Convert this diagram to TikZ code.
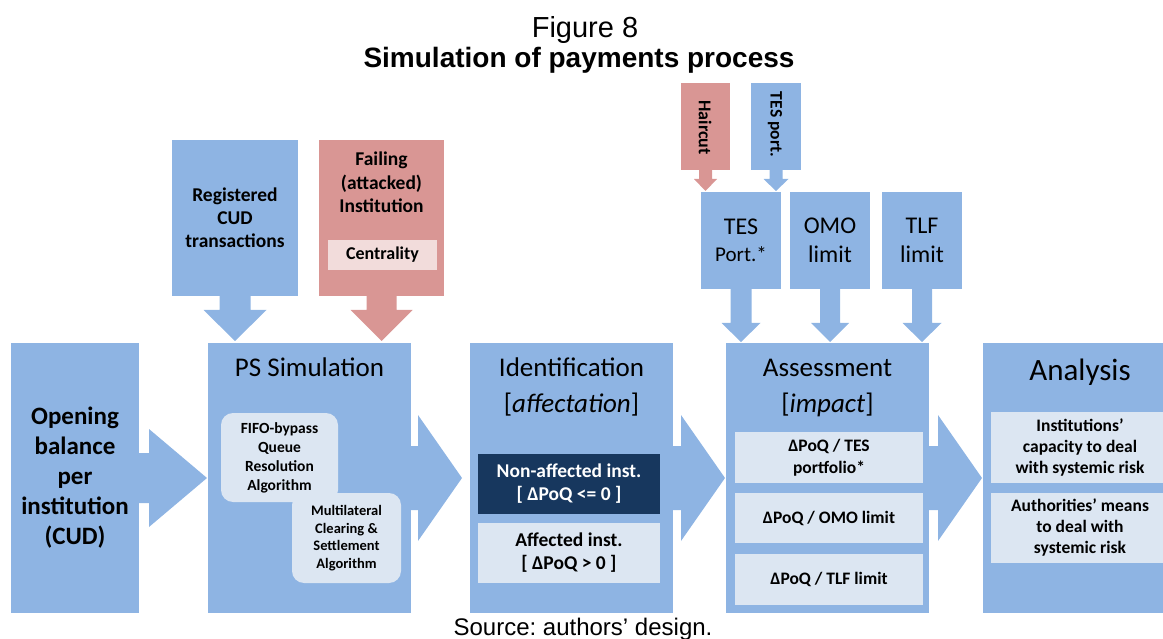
\documentclass[tikz,border=0pt]{standalone}
\usepackage{fontspec}
\setmainfont{Carlito}
\newfontfamily\arialfont{Liberation Sans}
\usetikzlibrary{calc}
\frenchspacing

\definecolor{blockblue}{HTML}{8EB4E3}
\definecolor{failred}{HTML}{D99694}
\definecolor{paleblue}{HTML}{DCE6F2}
\definecolor{palered}{HTML}{F2DCDB}
\definecolor{navy}{HTML}{17375E}

\newcommand\fs[2]{\fontsize{#1}{#2}\selectfont}

% horizontal block arrow: source, target, stem half height, head half height, stem length, gap to target
\newcommand\pushArrow[6]{%
  \fill[blockblue] let \p1=(#1.east), \p2=(#2.west) in
    (\x1,\y1+#3pt) -- (\x1+#5pt,\y1+#3pt) -- (\x1+#5pt,\y1+#4pt) -- (\x2-#6pt,\y1)
    -- (\x1+#5pt,\y1-#4pt) -- (\x1+#5pt,\y1-#3pt) -- (\x1,\y1-#3pt) -- cycle;}

% vertical block arrow: source, target, stem half width, head half width, head length, gap, colour
\newcommand\dropArrow[7]{%
  \fill[#7] let \p1=(#1.south), \p2=(#2.north) in
    (\x1-#3pt,\y1) -- (\x1+#3pt,\y1) -- (\x1+#3pt,\y2+#6pt+#5pt) -- (\x1+#4pt,\y2+#6pt+#5pt)
    -- (\x1,\y2+#6pt) -- (\x1-#4pt,\y2+#6pt+#5pt) -- (\x1-#3pt,\y2+#6pt+#5pt) -- (\x1-#3pt,\y1) -- cycle;}

\tikzset{
  flat/.style={rectangle, draw=none, inner sep=0pt, outer sep=0pt, align=center, text=black},
  bluebox/.style={flat, fill=blockblue},
  redbox/.style={flat, fill=failred},
  palebox/.style={flat, fill=paleblue},
  txt/.style={inner sep=0pt, outer sep=0pt, align=center, text=black},
}

\begin{document}
\begin{tikzpicture}[x=1pt,y=-1pt]
\useasboundingbox (0,0) rectangle (1163,639);

% headings
\node[txt, anchor=base, font=\arialfont\fs{29}{33}] (fig) at (585,38) {Figure 8};
\node[txt, anchor=base, font=\arialfont\bfseries\fs{28}{32}] (title) at (579,68) {Simulation of payments process};

% main stages
\node[bluebox, minimum width=128, minimum height=270, font=\bfseries\fs{25}{30}] (open) at (75,478)
  {Opening\\balance\\per\\institution\\(CUD)};
\node[bluebox, minimum width=203, minimum height=270] (ps) at (309.5,478) {};
\node[bluebox, minimum width=203, minimum height=270] (ident) at (571.5,478) {};
\node[bluebox, minimum width=203, minimum height=270] (assess) at (827.5,478) {};
\node[bluebox, minimum width=194, minimum height=270] (anal) at (1080,478) {};

% stage headings
\node[txt, anchor=base, font=\fs{27}{32}] (psT) at (309.5,377) {PS Simulation};
\node[txt, anchor=base, font=\fs{27}{32}] (identT) at (571.5,377) {Identification};
\node[txt, anchor=base, font=\fs{27}{32}] (identS) at (571.5,412) {[\textit{affectation}]};
\node[txt, anchor=base, font=\fs{27}{32}] (assessT) at (827.5,377) {Assessment};
\node[txt, anchor=base, font=\fs{27}{32}] (assessS) at (827.5,412) {[\textit{impact}]};
\node[txt, anchor=base, font=\fs{31}{36}] (analT) at (1080,380) {Analysis};

% PS simulation algorithms
\node[palebox, rounded corners=12pt, minimum width=117, minimum height=89, font=\bfseries\fs{15.5}{19}] (fifo) at (279.5,457.5)
  {FIFO-bypass\\Queue\\Resolution\\Algorithm};
\node[palebox, rounded corners=12pt, minimum width=109, minimum height=90, font=\bfseries\fs{14.5}{17.5}] (mlcs) at (346.5,538)
  {Multilateral\\Clearing \&\\Settlement\\Algorithm};

% identification outcomes
\node[flat, fill=navy, text=white, minimum width=182, minimum height=60, font=\bfseries\fs{19.5}{23}] (nonaff) at (569,484)
  {Non-affected inst.\\{[} ΔPoQ <= 0 ]};
\node[palebox, minimum width=182, minimum height=60, font=\bfseries\fs{19.5}{23}] (aff) at (569,553)
  {Affected inst.\\{[} ΔPoQ > 0 ]};

% assessment ratios
\node[palebox, minimum width=188, minimum height=51, font=\bfseries\fs{17.5}{22}] (r1) at (829,457.5) {ΔPoQ / TES\\portfolio*};
\node[palebox, minimum width=188, minimum height=50, font=\bfseries\fs{17.5}{22}] (r2) at (829,518) {ΔPoQ / OMO limit};
\node[palebox, minimum width=188, minimum height=51, font=\bfseries\fs{17.5}{22}] (r3) at (829,579.5) {ΔPoQ / TLF limit};

% analysis items
\node[palebox, minimum width=178, minimum height=71, font=\bfseries\fs{17.5}{21}] (a1) at (1080,447.5)
  {Institutions’\\capacity to deal\\with systemic risk};
\node[palebox, minimum width=178, minimum height=70, font=\bfseries\fs{17.5}{21}] (a2) at (1080,528)
  {Authorities’ means\\to deal with\\systemic risk};

% inputs to the simulation
\node[bluebox, minimum width=126, minimum height=156, font=\bfseries\fs{19.5}{23}] (reg) at (235,218)
  {Registered\\CUD\\transactions};
\node[redbox, minimum width=125, minimum height=156] (fail) at (381.5,218) {};
\node[txt, font=\bfseries\fs{19.5}{23.5}] (failT) at (381.5,182.5) {Failing\\(attacked)\\Institution};
\node[flat, fill=palered, minimum width=109, minimum height=30, font=\bfseries\fs{18}{22}] (cent) at (382.5,255) {Centrality};

% inputs to the assessment
\node[redbox, minimum width=49, minimum height=87] (hair) at (705.5,126.5) {};
\node[txt, rotate=-90, font=\bfseries\fs{18}{20}] (hairT) at (705,127.5) {Haircut};
\node[bluebox, minimum width=50, minimum height=87] (tesp) at (776,126.5) {};
\node[txt, rotate=-90, font=\bfseries\fs{17.5}{20}] (tespT) at (775,124.5) {TES port.};

\node[bluebox, minimum width=80, minimum height=97, font=\fs{24}{29}] (tes) at (741,240.5)
  {TES\\[-2pt]{\fs{21}{25}Port.*}};
\node[bluebox, minimum width=80, minimum height=97, font=\fs{24}{29}] (omo) at (830,240.5) {OMO\\limit};
\node[bluebox, minimum width=80, minimum height=97, font=\fs{24}{29}] (tlf) at (922,240.5) {TLF\\limit};

% flow arrows
\pushArrow{open}{ps}{25}{49}{10}{1}
\pushArrow{ps}{ident}{32}{63}{7}{8}
\pushArrow{ident}{assess}{32}{63}{8}{1}
\pushArrow{assess}{anal}{32}{63}{9}{1}

\dropArrow{reg}{ps}{15.5}{31.5}{31}{2}{blockblue}
\dropArrow{fail}{ps}{15}{31}{31}{2}{failred}
\dropArrow{hair}{tes}{6.5}{11.5}{12}{1}{failred}
\dropArrow{tesp}{tes}{6.5}{12.5}{12}{1}{blockblue}
\dropArrow{tes}{assess}{10.5}{19.5}{19}{1}{blockblue}
\dropArrow{omo}{assess}{10}{19}{19}{1}{blockblue}
\dropArrow{tlf}{assess}{10}{19.5}{19}{1}{blockblue}

% source line
\node[txt, anchor=base, font=\arialfont\fs{24}{28}] (src) at (583,635) {Source: authors’ design.};
\end{tikzpicture}
\end{document}
